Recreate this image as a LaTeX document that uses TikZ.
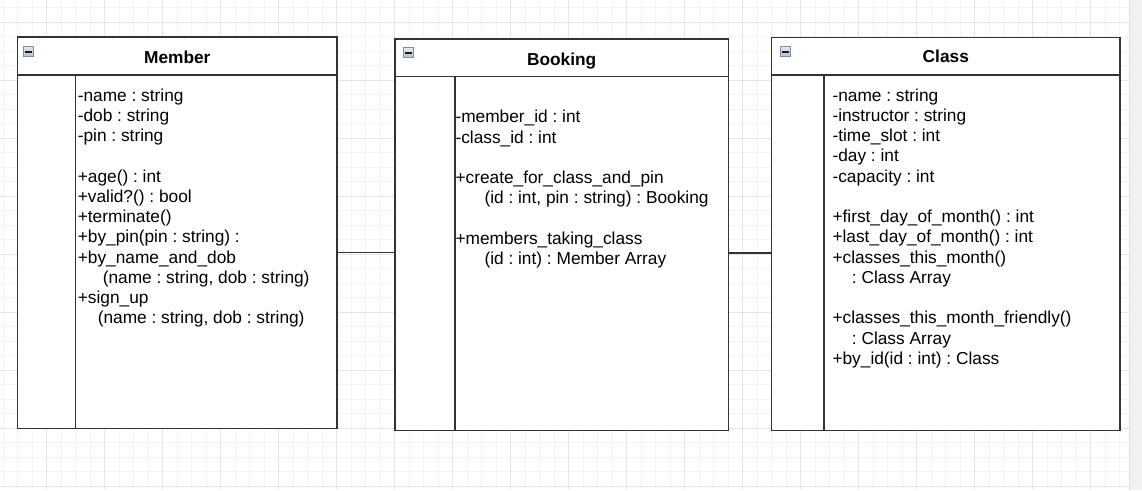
\documentclass[tikz,border=0pt]{standalone}
\usepackage{fontspec}
\setmainfont{Liberation Sans}
\frenchspacing
\definecolor{linecol}{HTML}{333333}
\definecolor{gridminor}{HTML}{F3F3F3}
\definecolor{gridmajor}{HTML}{E4E4E4}
\definecolor{iconborder}{HTML}{7F8EA3}
\definecolor{iconfill}{HTML}{B4C0D0}
\begin{document}
\begin{tikzpicture}[x=1pt,y=-1pt,
  minorline/.style={draw=gridminor,line width=0.8pt},
  majorline/.style={draw=gridmajor,line width=0.8pt},
  line/.style={draw=linecol,line width=1.5pt},
  boxpart/.style={draw=linecol,line width=1.5pt,fill=white,inner sep=0pt,outer sep=0pt,anchor=north west},
  titletext/.style={font=\bfseries\fontsize{17.3}{20.25}\selectfont,anchor=base,inner sep=0pt},
  listtext/.style={font=\fontsize{17.3}{20.25}\selectfont,align=left,anchor=north west,inner sep=0pt},
  iconbox/.style={draw=iconborder,line width=0.8pt,minimum size=10pt,inner sep=0pt,
    top color=iconfill!35,bottom color=iconfill,
    path picture={\fill[black!90] ([xshift=-3.3pt,yshift=-1pt]path picture bounding box.center) rectangle ([xshift=3.3pt,yshift=1pt]path picture bounding box.center);}}
]
\useasboundingbox (0,0) rectangle (1142,490);
\fill[white] (0,0) rectangle (1142,490);
% grid
\foreach \x in {3.2,17.7,...,1125} \draw[minorline] (\x,0) -- (\x,489);
\foreach \y in {7.4,21.9,...,489} \draw[minorline] (0,\y) -- (1129.5,\y);
\foreach \x in {46.7,104.7,...,1125} \draw[majorline] (\x,0) -- (\x,489);
\foreach \y in {21.9,79.9,...,489} \draw[majorline] (0,\y) -- (1129.5,\y);
\fill[black!5] (1129.5,0) rectangle (1142,490);
\draw[black!12,line width=0.8pt] (1129.5,0) -- (1129.5,490);

% Member
\node[boxpart,minimum width=319.5pt,minimum height=38pt] (memberhead) at (17.5,37) {};
\node[boxpart,minimum width=319.5pt,minimum height=353.3pt] (memberbody) at (17.5,75) {};
\draw[line] ([xshift=57.8pt]memberbody.north west) -- ([xshift=57.8pt]memberbody.south west);
\node[iconbox] (membericon) at (28.5,51.5) {};
\node[titletext] (membertitle) at (177.3,63.2) {Member};
\node[listtext] (memberlist) at (77.6,86.8) {\strut-name : string\\
\strut-dob : string\\
\strut-pin : string\\
\strut\\
\strut+age() : int\\
\strut+valid?() : bool\\
\strut+terminate()\\
\strut+by\_pin(pin : string) :\\
\strut+by\_name\_and\_dob\\
\strut\hspace*{25pt}(name : string, dob : string)\\
\strut+sign\_up\\
\strut\hspace*{20pt}(name : string, dob : string)};

% Booking
\node[boxpart,minimum width=333.3pt,minimum height=37.7pt] (bookinghead) at (395,39) {};
\node[boxpart,minimum width=333.3pt,minimum height=353.8pt] (bookingbody) at (395,76.7) {};
\draw[line] ([xshift=60pt]bookingbody.north west) -- ([xshift=60pt]bookingbody.south west);
\node[iconbox] (bookingicon) at (408.5,52.5) {};
\node[titletext] (bookingtitle) at (561.7,65.5) {Booking};
\node[listtext] (bookinglist) at (455.3,108.5) {\strut-member\_id : int\\
\strut-class\_id : int\\
\strut\\
\strut+create\_for\_class\_and\_pin\\
\strut\hspace*{29pt}(id : int, pin : string) : Booking\\
\strut\\
\strut+members\_taking\_class\\
\strut\hspace*{29pt}(id : int) : Member Array};

% Class
\node[boxpart,minimum width=348.3pt,minimum height=37.7pt] (classhead) at (771.7,37.3) {};
\node[boxpart,minimum width=348.3pt,minimum height=355.7pt] (classbody) at (771.7,75) {};
\draw[line] ([xshift=52.3pt]classbody.north west) -- ([xshift=52.3pt]classbody.south west);
\node[iconbox] (classicon) at (785.5,51.5) {};
\node[titletext] (classtitle) at (945.8,62.8) {Class};
\node[listtext] (classlist) at (832.3,86.8) {\strut-name : string\\
\strut-instructor : string\\
\strut-time\_slot : int\\
\strut-day : int\\
\strut-capacity : int\\
\strut\\
\strut+first\_day\_of\_month() : int\\
\strut+last\_day\_of\_month() : int\\
\strut+classes\_this\_month()\\
\strut\hspace*{19.4pt}: Class Array\\
\strut\\
\strut+classes\_this\_month\_friendly()\\
\strut\hspace*{19.4pt}: Class Array\\
\strut+by\_id(id : int) : Class};

% connectors
\draw[line] ([yshift=-1pt]memberbody.east) -- ([yshift=-1pt]memberbody.east -| bookingbody.west);
\draw[line] ([yshift=0.8pt]bookingbody.east) -- ([yshift=0.8pt]bookingbody.east -| classbody.west);
\end{tikzpicture}
\end{document}
